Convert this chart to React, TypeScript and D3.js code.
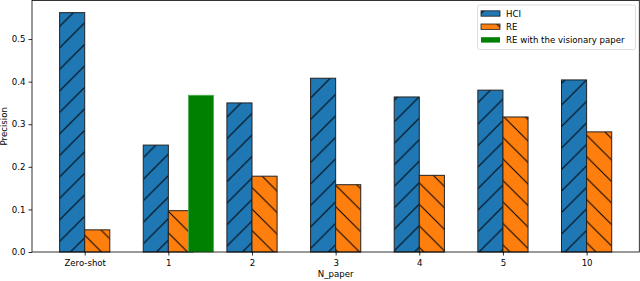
import React, { useEffect, useRef } from "react";
import * as d3 from "d3";

// data
const categories = ["Zero-shot", "1", "2", "3", "4", "5", "10"];
const hciValues = [0.562, 0.251, 0.35, 0.408, 0.364, 0.38, 0.404];
const reValues = [0.052, 0.097, 0.178, 0.158, 0.18, 0.317, 0.282];
const visionaryCategory = "1";
const visionaryValue = 0.368;
const yTicks = [0, 0.1, 0.2, 0.3, 0.4, 0.5];
const legendLabels = ["HCI", "RE", "RE with the visionary paper"];

const W = 640;
const H = 281;
const FONT = "DejaVu Sans, sans-serif";
const FS = 8.6;

function App() {
  const ref = useRef<SVGSVGElement>(null);

  useEffect(() => {
    const svg = d3.select(ref.current);
    svg.selectAll("*").remove();

    const left = 32, right = 639.3, top = 0.5, bottom = 252;
    const barW = 0.3;

    const x = d3.scaleLinear().domain([-0.63, 6.63]).range([left, right]);
    const y = d3.scaleLinear().domain([0, 0.5905]).range([bottom, top]);
    const idx = (c: string) => categories.indexOf(c);

    // hatch patterns
    const defs = svg.append("defs");
    const p = 21.5;
    const mkHatch = (id: string, bg: string, forward: boolean) => {
      const pat = defs
        .append("pattern")
        .attr("id", id)
        .attr("patternUnits", "userSpaceOnUse")
        .attr("width", p)
        .attr("height", p);
      pat.append("rect").attr("width", p).attr("height", p).attr("fill", bg);
      const d = forward
        ? `M0,${p} L${p},0 M-3,3 L3,-3 M${p - 3},${p + 3} L${p + 3},${p - 3}`
        : `M0,0 L${p},${p} M-3,${p - 3} L3,${p + 3} M${p - 3},-3 L${p + 3},3`;
      pat.append("path").attr("d", d).attr("stroke", "#000").attr("stroke-width", 1);
    };
    mkHatch("hatchHCI", "#1f77b4", true);
    mkHatch("hatchRE", "#ff7f0e", false);

    const g = svg.append("g");

    // bars
    g.selectAll(".hci")
      .data(hciValues)
      .enter()
      .append("rect")
      .attr("x", (d, i) => x(i - barW))
      .attr("y", (d) => y(d))
      .attr("width", x(barW) - x(0))
      .attr("height", (d) => bottom - y(d))
      .attr("fill", "url(#hatchHCI)")
      .attr("stroke", "#222")
      .attr("stroke-width", 1);

    g.selectAll(".re")
      .data(reValues)
      .enter()
      .append("rect")
      .attr("x", (d, i) => x(i))
      .attr("y", (d) => y(d))
      .attr("width", x(barW) - x(0))
      .attr("height", (d) => bottom - y(d))
      .attr("fill", "url(#hatchRE)")
      .attr("stroke", "#222")
      .attr("stroke-width", 1);

    const gi = idx(visionaryCategory);
    g.append("rect")
      .attr("x", x(gi + 0.24))
      .attr("y", y(visionaryValue))
      .attr("width", x(barW) - x(0))
      .attr("height", bottom - y(visionaryValue))
      .attr("fill", "#008000")
      .attr("stroke", "#4fae4f")
      .attr("stroke-width", 0.8);

    // frame
    svg.append("rect")
      .attr("x", left)
      .attr("y", top)
      .attr("width", right - left)
      .attr("height", bottom - top)
      .attr("fill", "none")
      .attr("stroke", "#000")
      .attr("stroke-width", 0.8);

    // y axis
    const ya = svg.append("g").attr("transform", `translate(${left},0)`)
      .call(d3.axisLeft(y).tickValues(yTicks).tickFormat(d3.format(".1f")).tickSize(3.5).tickPadding(3));
    ya.select(".domain").remove();
    ya.selectAll("text").attr("font-family", FONT).attr("font-size", FS).attr("fill", "#000");
    ya.selectAll("line").attr("stroke", "#000").attr("stroke-width", 0.8);

    // x axis
    const xa = svg.append("g").attr("transform", `translate(0,${bottom})`)
      .call(d3.axisBottom(x).tickValues(categories.map((c, i) => i))
        .tickFormat((d) => categories[d as number]).tickSize(3.5).tickPadding(4));
    xa.select(".domain").remove();
    xa.selectAll("text").attr("font-family", FONT).attr("font-size", FS).attr("fill", "#000");
    xa.selectAll("line").attr("stroke", "#000").attr("stroke-width", 0.8);

    // axis labels
    svg.append("text")
      .attr("x", (left + right) / 2)
      .attr("y", 277)
      .attr("text-anchor", "middle")
      .attr("font-family", FONT)
      .attr("font-size", FS)
      .text("N_paper");
    svg.append("text")
      .attr("transform", `translate(7,${(top + bottom) / 2}) rotate(-90)`)
      .attr("text-anchor", "middle")
      .attr("font-family", FONT)
      .attr("font-size", FS)
      .text("Precision");

    // legend
    const lg = svg.append("g");
    lg.append("rect")
      .attr("x", 477.5)
      .attr("y", 5)
      .attr("width", 158)
      .attr("height", 44.5)
      .attr("rx", 2)
      .attr("fill", "#fff")
      .attr("fill-opacity", 0.8)
      .attr("stroke", "#d6d6d6")
      .attr("stroke-width", 0.8);
    const fills = ["url(#hatchHCI)", "url(#hatchRE)", "#008000"];
    legendLabels.forEach((lab, i) => {
      const cy = 13.5 + i * 13.2;
      lg.append("rect")
        .attr("x", 481)
        .attr("y", cy - 2.7)
        .attr("width", 19)
        .attr("height", 5.4)
        .attr("fill", fills[i])
        .attr("stroke", i < 2 ? "#222" : "none")
        .attr("stroke-width", 0.8);
      lg.append("text")
        .attr("x", 506)
        .attr("y", cy + 3)
        .attr("font-family", FONT)
        .attr("font-size", FS)
        .text(lab);
    });
  }, []);

  return <svg ref={ref} width={W} height={H} style={{ position: "absolute", left: 0, top: 0 }}></svg>;
}

export default App;
